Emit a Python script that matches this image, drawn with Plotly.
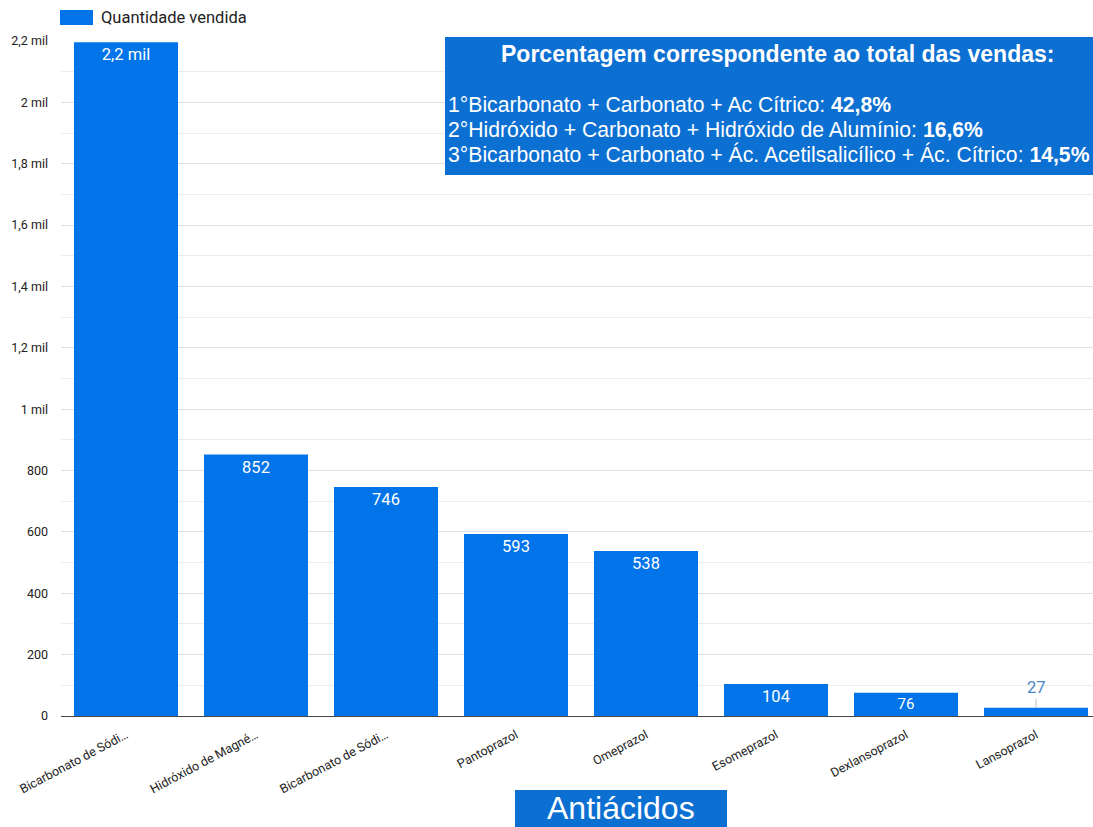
import plotly.graph_objects as go

categories = ["Bicarbonato de Sódi…", "Hidróxido de Magné…", "Bicarbonato de Sódi…",
              "Pantoprazol", "Omeprazol", "Esomeprazol", "Dexlansoprazol", "Lansoprazol"]
values = [2196, 852, 746, 593, 538, 104, 76, 27]
tick_vals = [0, 200, 400, 600, 800, 1000, 1200, 1400, 1600, 1800, 2000, 2200]
tick_text = ["0", "200", "400", "600", "800", "1 mil", "1,2 mil", "1,4 mil",
             "1,6 mil", "1,8 mil", "2 mil", "2,2 mil"]
series_name = "Quantidade vendida"
box_title = "Porcentagem correspondente ao total das vendas:"
box_lines = [("1°Bicarbonato + Carbonato + Ac Cítrico: ", "42,8%"),
             ("2°Hidróxido + Carbonato + Hidróxido de Alumínio: ", "16,6%"),
             ("3°Bicarbonato + Carbonato + Ác. Acetilsalicílico + Ác. Cítrico: ", "14,5%")]
x_title = "Antiácidos"

W, H = 1093, 827
L, R, T, B = 61, 0, 41, 111
PW, PH = W - L - R, H - T - B
BAR = "#0074E8"
BOX = "#0C6FD2"


def px(x):
    return (x - L) / PW


def py(y):
    return (H - B - y) / PH


def fmt(v):
    if v >= 1000:
        return f"{v/1000:.1f}".replace(".", ",") + " mil"
    return str(v)


idx = list(range(len(values)))
texts = [fmt(v) if v > 60 else "" for v in values]

fig = go.Figure()
fig.add_trace(go.Bar(
    x=idx, y=values, marker_color=BAR, marker_line_width=0,
    text=texts, textposition="inside", insidetextanchor="end",
    textfont=dict(family="Roboto", size=16.5, color="white"),
    textangle=0, cliponaxis=False, showlegend=False,
))

# small value labelled outside with leader line
for i, v in enumerate(values):
    if v <= 60:
        fig.add_annotation(x=i, y=v, text=fmt(v), showarrow=True, arrowhead=0,
                           arrowwidth=1, arrowcolor="#bbbbbb", ax=0, ay=-20,
                           font=dict(family="Roboto", size=16.5, color="#4A86C8"))

fig.update_layout(
    width=W, height=H, margin=dict(l=L, r=R, t=T, b=B),
    paper_bgcolor="white", plot_bgcolor="white", bargap=0.2,
    font=dict(family="Roboto", color="#333"),
    xaxis=dict(range=[-0.5, -0.5 + PW / 130], tickvals=idx, ticktext=categories,
               tickangle=-28, tickfont=dict(family="Roboto", size=12.5, color="#222"),
               showgrid=False, showline=True, linecolor="#444", linewidth=1,
               ticks="", zeroline=False, ticklabelstandoff=6),
    yaxis=dict(range=[0, 2200], tickvals=tick_vals, ticktext=tick_text,
               tickfont=dict(family="Roboto", size=12.5, color="#222"),
               showgrid=True, gridcolor="#e0e0e0", gridwidth=1, zeroline=False,
               ticks="", ticklen=0, ticklabelstandoff=12,
               minor=dict(dtick=100, showgrid=True, gridcolor="#ececec", tick0=0)),
)

shapes = [
    dict(type="rect", xref="paper", yref="paper", x0=px(445), x1=px(1093), y0=py(175), y1=py(37),
         fillcolor=BOX, line_width=0, layer="above"),
    dict(type="rect", xref="paper", yref="paper", x0=px(515), x1=px(727), y0=py(827), y1=py(790),
         fillcolor=BOX, line_width=0, layer="above"),
    dict(type="rect", xref="paper", yref="paper", x0=px(60), x1=px(93), y0=py(25), y1=py(10),
         fillcolor=BAR, line_width=0, layer="above"),
]
fig.update_layout(shapes=shapes)

fig.add_annotation(xref="paper", yref="paper", x=px(99), y=py(18), xanchor="left", yanchor="middle",
                   text=series_name, showarrow=False,
                   font=dict(family="Roboto", size=16.5, color="#222"))
fig.add_annotation(xref="paper", yref="paper", x=px(777), y=py(54), xanchor="center", yanchor="middle",
                   text=f"<b>{box_title}</b>", showarrow=False,
                   font=dict(family="Liberation Sans", size=23, color="white"))
for k, (a, b) in enumerate(box_lines):
    fig.add_annotation(xref="paper", yref="paper", x=px(446), y=py(104 + 25 * k),
                       xanchor="left", yanchor="middle", text=f"{a}<b>{b}</b>", showarrow=False,
                       font=dict(family="Liberation Sans", size=21.2, color="white"))
fig.add_annotation(xref="paper", yref="paper", x=px(621), y=py(808), xanchor="center", yanchor="middle",
                   text=x_title, showarrow=False,
                   font=dict(family="Liberation Sans", size=32, color="white"))

fig.write_html("out.html")
